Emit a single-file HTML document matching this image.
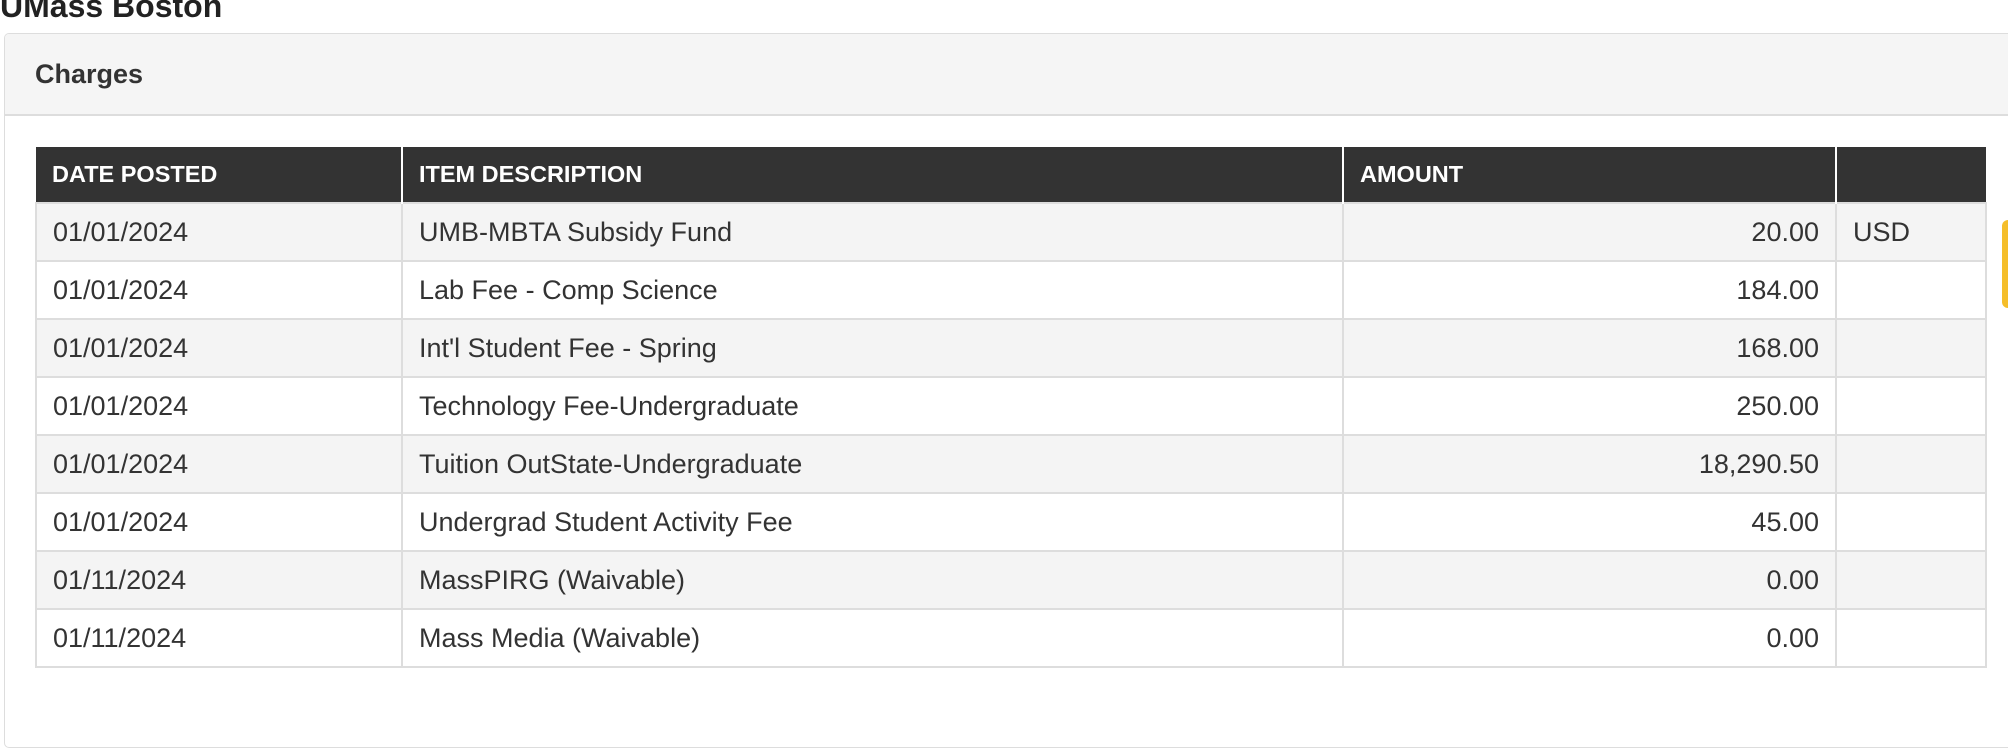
<!DOCTYPE html>
<html><head><meta charset="utf-8"><style>
*{box-sizing:border-box;margin:0;padding:0}
body{width:2008px;height:751px;overflow:hidden;background:#fff;font-family:"Liberation Sans",Arial,sans-serif;color:#333;position:relative}
#title{position:absolute;left:0;top:-13px;font-size:32px;font-weight:bold;line-height:38px;color:#222}
#panel{position:absolute;left:4px;top:33px;width:2030px;height:715px;border:1px solid #ddd;border-radius:5px;overflow:hidden}
#phead{height:82px;background:#f5f5f5;border-bottom:2px solid #ddd;padding-left:30px;font-size:27px;font-weight:bold;line-height:80px;color:#333}
table{position:absolute;left:30px;top:113px;border-collapse:collapse;font-size:27px}
th{background:#333;color:#fff;text-align:left;font-size:23.5px;font-weight:bold;height:56px;padding:0 16px;border-left:2px solid #fff}
th:first-child{border-left:none}
td{height:58px;padding:0 16px;border:2px solid #ddd}
tr:nth-child(odd) td{background:#f4f4f4}
td.amt{text-align:right}
#tab{position:absolute;right:0;top:220px;width:6px;height:88px;background:#f5be2a;border-radius:6px 0 0 6px}
</style></head><body>
<div id="title">UMass Boston</div>
<div id="panel">
<div id="phead">Charges</div>
<table>
<colgroup><col style="width:366px"><col style="width:941px"><col style="width:493px"><col style="width:150px"></colgroup>
<thead><tr>
<th>DATE POSTED</th>
<th>ITEM DESCRIPTION</th>
<th>AMOUNT</th>
<th></th></tr></thead>
<tbody>
<tr><td>01/01/2024</td><td>UMB-MBTA Subsidy Fund</td><td class="amt">20.00</td><td>USD</td></tr>
<tr><td>01/01/2024</td><td>Lab Fee - Comp Science</td><td class="amt">184.00</td><td></td></tr>
<tr><td>01/01/2024</td><td>Int'l Student Fee - Spring</td><td class="amt">168.00</td><td></td></tr>
<tr><td>01/01/2024</td><td>Technology Fee-Undergraduate</td><td class="amt">250.00</td><td></td></tr>
<tr><td>01/01/2024</td><td>Tuition OutState-Undergraduate</td><td class="amt">18,290.50</td><td></td></tr>
<tr><td>01/01/2024</td><td>Undergrad Student Activity Fee</td><td class="amt">45.00</td><td></td></tr>
<tr><td>01/11/2024</td><td>MassPIRG (Waivable)</td><td class="amt">0.00</td><td></td></tr>
<tr><td>01/11/2024</td><td>Mass Media (Waivable)</td><td class="amt">0.00</td><td></td></tr>
</tbody></table>
</div>
<div id="tab"></div>
</body></html>
